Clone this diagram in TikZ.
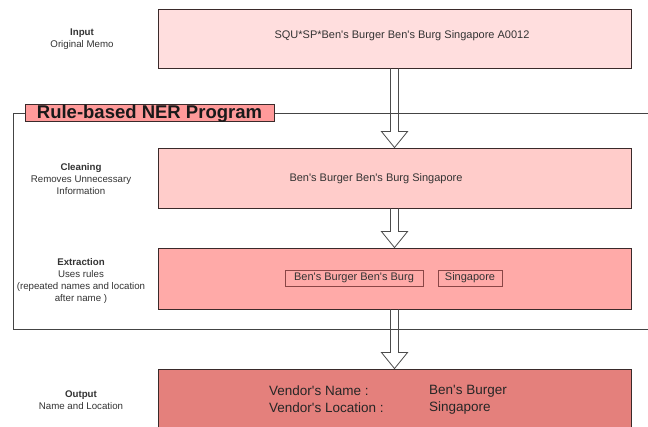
\documentclass[tikz,border=0pt]{standalone}
\usepackage{fontspec}
\newfontfamily\arial{Liberation Sans}
\usetikzlibrary{calc}
\definecolor{inputfill}{HTML}{FFDEDE}
\definecolor{cleanfill}{HTML}{FFCCCA}
\definecolor{extractfill}{HTML}{FFAAA8}
\definecolor{outputfill}{HTML}{E4807C}
\definecolor{titlefill}{HTML}{FF9A9A}
\definecolor{boxline}{HTML}{3A2A2A}
\definecolor{innerline}{HTML}{8A4646}
\definecolor{txt}{HTML}{333333}
\definecolor{frameline}{HTML}{444444}
\newcommand{\blockarrow}[2]{%
  \draw[hollow] let \p1=(#1.south), \p2=(#2.north) in
    (\x1-4pt,\y1) -- (\x1-4pt,\y2+16pt) -- (\x1-13pt,\y2+16pt) -- (\x1,\y2)
    -- (\x1+13pt,\y2+16pt) -- (\x1+4pt,\y2+16pt) -- (\x1+4pt,\y1);}
\begin{document}
\begin{tikzpicture}[x=1pt,y=-1pt,
  stage/.style={draw=boxline, line width=0.9pt, minimum width=473pt, minimum height=60pt, inner sep=0pt},
  tagbox/.style={draw=innerline, line width=0.8pt, fill=extractfill, minimum height=16pt, inner sep=0pt, font=\arial\fontsize{11}{13}\selectfont, text=txt},
  side/.style={align=center, font=\arial\fontsize{9.7}{12}\selectfont, text=txt},
  boxtext/.style={font=\arial\fontsize{11}{13}\selectfont, text=txt},
  outtext/.style={anchor=west, inner sep=0pt, font=\arial\fontsize{13.5}{16}\selectfont, text=black!85},
  titlebox/.style={draw=boxline, line width=0.8pt, fill=titlefill, minimum width=249pt, minimum height=17pt, inner sep=0pt, text height=14pt, text depth=2pt, font=\arial\bfseries\fontsize{18.5}{19}\selectfont, text=black!90},
  hollow/.style={draw=black!70, line width=0.8pt, line join=miter}]
\useasboundingbox (0,0) rectangle (648,426);
\fill[white] (0,0) rectangle (648,426);

% program frame
\draw[frameline, line width=0.9pt] (648,113) -- (13,113) -- (13,329) -- (648,329);
\node[titlebox] (title) at (149.5,112.5) {Rule-based NER Program};

% side labels
\node[side] (lin) at (82,39) {\textbf{Input}\\Original Memo};
\node[side] (lclean) at (81,179) {\textbf{Cleaning}\\Removes Unnecessary\\Information};
\node[side] (lext) at (81,281) {\textbf{Extraction}\\Uses rules\\(repeated names and location\\after name )};
\node[side] (lout) at (81,400) {\textbf{Output}\\Name and Location};

% stage boxes
\node[stage, fill=inputfill, minimum height=59pt] (input) at (394.5,38.5) {};
\node[boxtext] (inputtxt) at (402,36) {SQU*SP*Ben's Burger Ben's Burg Singapore A0012};

\node[stage, fill=cleanfill] (clean) at (394.5,178) {};
\node[boxtext] (cleantxt) at (376,179) {Ben's Burger Ben's Burg Singapore};

\node[stage, fill=extractfill, minimum height=61pt] (extract) at (394.5,278.5) {};
\node[tagbox, minimum width=138pt] (tagname) at (354,278) {Ben's Burger Ben's Burg};
\node[tagbox, minimum width=64pt] (tagloc) at (470,278) {Singapore};

\node[stage, fill=outputfill] (output) at (394.5,399) {};
\node[outtext] (vn) at (269,391) {Vendor's Name :};
\node[outtext] (vl) at (269,408) {Vendor's Location :};
\node[outtext] (vnv) at (429,391) {Ben's Burger};
\node[outtext] (vlv) at (429,408) {Singapore};

% hollow arrows
\blockarrow{input}{clean}
\blockarrow{clean}{extract}
\blockarrow{extract}{output}
\end{tikzpicture}
\end{document}
